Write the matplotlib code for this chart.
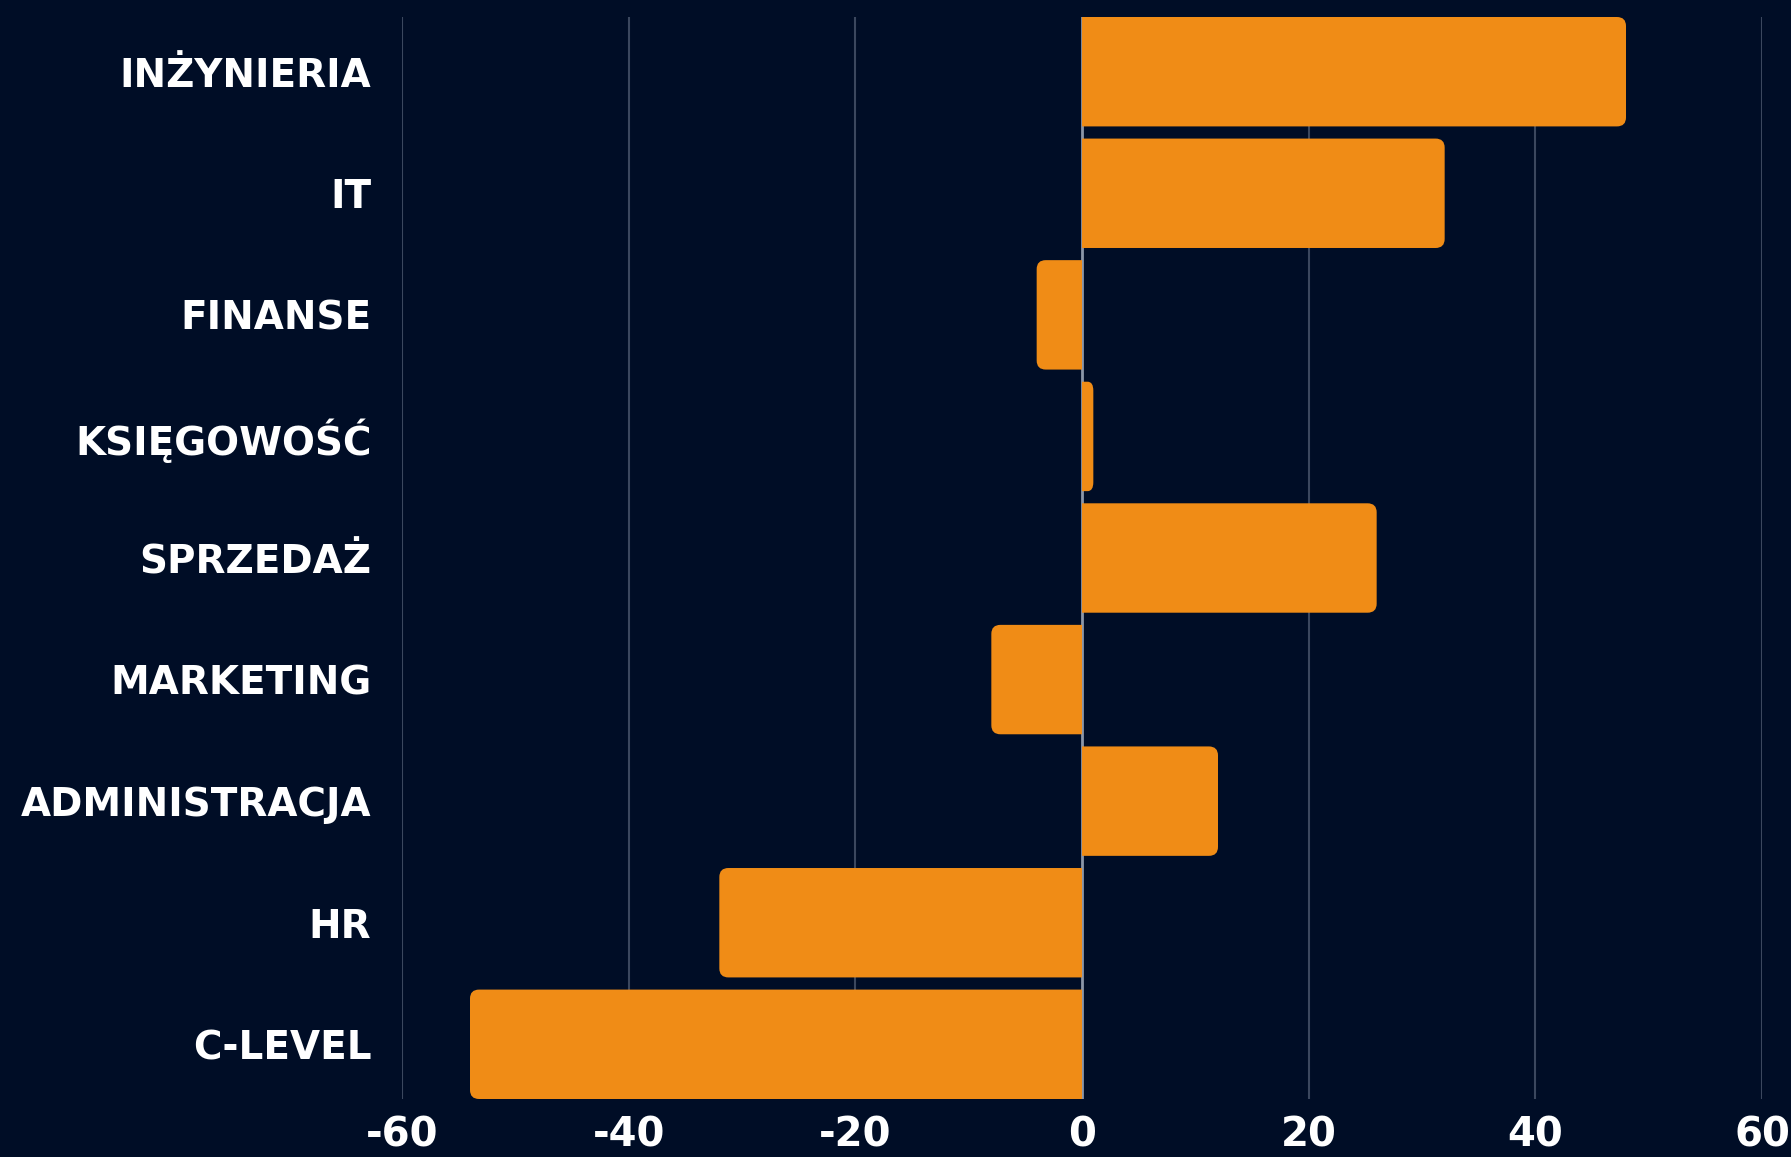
import matplotlib
matplotlib.use("Agg")
import matplotlib.pyplot as plt
from matplotlib.patches import PathPatch
from matplotlib.path import Path

# departments, top to bottom
labels = ["INŻYNIERIA", "IT", "FINANSE", "KSIĘGOWOŚĆ", "SPRZEDAŻ",
          "MARKETING", "ADMINISTRACJA", "HR", "C-LEVEL"]
values = [48, 32, -4, 1, 26, -8, 12, -32, -54]
xticks = [-60, -40, -20, 0, 20, 40, 60]

bg = "#000d26"
orange = "#f08c16"
grid_col = "#3b475e"
zero_col = "#8c96a8"

plt.rcParams['font.family'] = ['DejaVu Sans']

fig = plt.figure(figsize=(17.91, 11.57), dpi=100, facecolor=bg)
ax = fig.add_axes([402/1791, 1 - 1099/1157, (1762-402)/1791, (1099-17)/1157])
ax.set_facecolor(bg)

ypos = list(range(len(labels)))
bar_h = 0.9
bars = ax.barh(ypos, values, height=bar_h, color="none", edgecolor="none")

ax.set_xlim(-60, 60)
ax.set_ylim(len(labels) - 0.55, -0.45)

# rounded outer end, square end at zero (one path per bar)
rx, ry = 0.8, 0.074
for b, v in zip(bars, values):
    y0, h = b.get_y(), b.get_height()
    y1 = y0 + h
    s = 1 if v >= 0 else -1
    r = min(rx, abs(v) / 2)
    verts = [(0, y0), (v - s*r, y0), (v, y0), (v, y0 + ry), (v, y1 - ry),
             (v, y1), (v - s*r, y1), (0, y1), (0, y0)]
    codes = [Path.MOVETO, Path.LINETO, Path.CURVE3, Path.CURVE3, Path.LINETO,
             Path.CURVE3, Path.CURVE3, Path.LINETO, Path.CLOSEPOLY]
    ax.add_patch(PathPatch(Path(verts, codes), fc=orange, ec="none", zorder=3))

for t in xticks:
    if t == 0:
        ax.axvline(t, color=zero_col, lw=2, zorder=2)
    else:
        ax.axvline(t, color=grid_col, lw=1.5, zorder=1)

ax.set_yticks(ypos)
ax.set_yticklabels(labels)
ax.set_xticks(xticks)
ax.set_xticklabels([str(t) for t in xticks])
ax.tick_params(axis="y", length=0, pad=22, labelsize=28, labelcolor="white")
ax.tick_params(axis="x", length=0, pad=12, labelsize=29, labelcolor="white")
for lab in ax.get_yticklabels() + ax.get_xticklabels():
    lab.set_fontweight("bold")

for s in ax.spines.values():
    s.set_visible(False)

fig.savefig("out.png", dpi=100, facecolor=bg)
